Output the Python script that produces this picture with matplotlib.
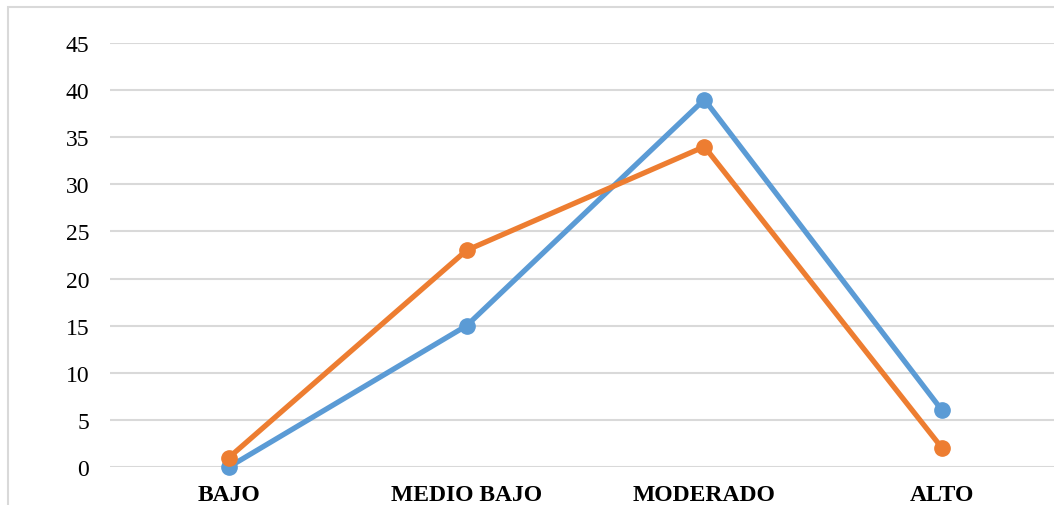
import matplotlib.pyplot as plt
from matplotlib.patches import Rectangle

categories = ["BAJO", "MEDIO BAJO", "MODERADO", "ALTO"]
serie_azul = [0, 15, 39, 6]
serie_naranja = [1, 23, 34, 2]
y_ticks = [0, 5, 10, 15, 20, 25, 30, 35, 40, 45]

plt.rcParams['font.family'] = ['Liberation Serif', 'DejaVu Serif']

fig = plt.figure(figsize=(10.54, 5.06), dpi=100)
ax = fig.add_axes([110 / 1054, 38 / 506, 951 / 1054, 424 / 506])

# chart border, open to the right and bottom like the cropped original
fig.patches.append(Rectangle((8 / 1054, -0.1), 1.2, 498 / 506 + 0.1,
                             transform=fig.transFigure, fill=False,
                             edgecolor="#d9d9d9", linewidth=1.5))

x = range(len(categories))
ax.plot(x, serie_azul, color="#5B9BD5", linewidth=3.8, marker="o",
        markersize=11, solid_capstyle="round", zorder=3)
ax.plot(x, serie_naranja, color="#ED7D31", linewidth=3.8, marker="o",
        markersize=11, solid_capstyle="round", zorder=4)

ax.set_xlim(-0.5, 3.5)
ax.set_ylim(0, 45)
ax.set_yticks(y_ticks)
ax.set_xticks(list(x))
ax.set_xticklabels(categories, fontweight="bold", fontsize=17)
ax.tick_params(axis="y", length=0, pad=15, labelsize=17)
ax.tick_params(axis="x", length=0, pad=12)
ax.grid(axis="y", color="#d9d9d9", linewidth=1.5)
ax.set_axisbelow(True)
for s in ax.spines.values():
    s.set_visible(False)
for line in ax.lines:
    line.set_clip_on(False)

fig.savefig("out.png", dpi=100)
